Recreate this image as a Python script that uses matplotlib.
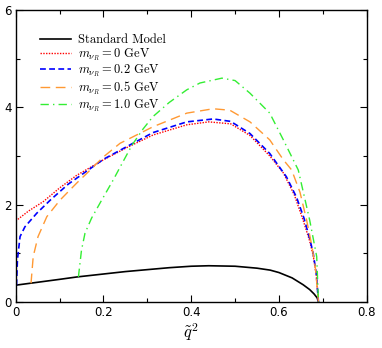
import matplotlib
matplotlib.use("Agg")
import matplotlib.pyplot as plt
from matplotlib.ticker import MultipleLocator

plt.rcParams['mathtext.fontset'] = 'cm'

# Standard Model
sm_x = [0, 0.05, 0.1, 0.14, 0.2, 0.25, 0.3, 0.35, 0.4, 0.44, 0.5, 0.55, 0.58, 0.6, 0.63, 0.655, 0.67, 0.68, 0.687, 0.69]
sm_y = [0.34, 0.40, 0.46, 0.51, 0.57, 0.62, 0.66, 0.70, 0.73, 0.74, 0.73, 0.69, 0.65, 0.60, 0.49, 0.35, 0.25, 0.16, 0.08, 0.0]

# m = 0 GeV
m0_x = [0, 0.03, 0.063, 0.1, 0.139, 0.2, 0.253, 0.313, 0.39, 0.44, 0.49, 0.534, 0.579, 0.61, 0.635, 0.655, 0.67, 0.678, 0.685, 0.69]
m0_y = [1.66, 1.87, 2.06, 2.34, 2.60, 2.92, 3.17, 3.43, 3.64, 3.70, 3.66, 3.42, 3.00, 2.65, 2.20, 1.68, 1.25, 0.95, 0.55, 0.0]

# m = 0.2 GeV
m02_x = [0.002, 0.004, 0.01, 0.021, 0.048, 0.08, 0.12, 0.2, 0.253, 0.313, 0.39, 0.45, 0.49, 0.534, 0.579, 0.617, 0.64, 0.657, 0.67, 0.678, 0.685, 0.69]
m02_y = [0.34, 0.86, 1.34, 1.54, 1.82, 2.10, 2.42, 2.93, 3.19, 3.48, 3.70, 3.76, 3.71, 3.46, 3.05, 2.57, 2.15, 1.72, 1.30, 1.00, 0.58, 0.0]

# m = 0.5 GeV
m05_x = [0.035, 0.04, 0.051, 0.071, 0.101, 0.139, 0.162, 0.2, 0.238, 0.313, 0.39, 0.45, 0.488, 0.534, 0.579, 0.61, 0.629, 0.648, 0.663, 0.675, 0.683, 0.69]
m05_y = [0.38, 0.93, 1.34, 1.75, 2.09, 2.44, 2.64, 2.98, 3.26, 3.60, 3.88, 3.97, 3.94, 3.70, 3.33, 2.92, 2.71, 2.25, 1.68, 1.15, 0.70, 0.0]

# m = 1.0 GeV
m10_x = [0.143, 0.15, 0.158, 0.173, 0.196, 0.222, 0.241, 0.253, 0.265, 0.29, 0.313, 0.35, 0.39, 0.42, 0.47, 0.50, 0.534, 0.579, 0.61, 0.644, 0.670, 0.686, 0.69]
m10_y = [0.51, 1.06, 1.41, 1.72, 2.09, 2.50, 2.82, 3.02, 3.22, 3.55, 3.81, 4.10, 4.36, 4.50, 4.60, 4.55, 4.29, 3.88, 3.33, 2.71, 1.68, 0.93, 0.0]

labels = ['Standard Model',
          r'$m_{\nu_R} = 0$ GeV',
          r'$m_{\nu_R} = 0.2$ GeV',
          r'$m_{\nu_R} = 0.5$ GeV',
          r'$m_{\nu_R} = 1.0$ GeV']

x_ticks = [0, 0.2, 0.4, 0.6, 0.8]
x_ticklabels = ['0', '0.2', '0.4', '0.6', '0.8']
y_ticks = [0, 2, 4, 6]
y_ticklabels = ['0', '2', '4', '6']

fig = plt.figure(figsize=(3.82, 3.48), dpi=100)
ax = fig.add_axes([0.041, 0.133, 0.919, 0.838])

ax.plot(sm_x, sm_y, color='black', lw=1.2, label=labels[0])
ax.plot(m0_x, m0_y, color='#ff0000', lw=1.0, ls=(0, (1, 1)), label=labels[1])
ax.plot(m02_x, m02_y, color='#0000ff', lw=1.2, ls=(0, (3.5, 2)), label=labels[2])
ax.plot(m05_x, m05_y, color='#ff9933', lw=1.0, ls=(0, (7, 4)), label=labels[3])
ax.plot(m10_x, m10_y, color='#33ee33', lw=1.0, ls=(0, (6, 3, 1, 3)), label=labels[4])

ax.set_xlim(0, 0.8)
ax.set_ylim(0, 6)
ax.set_xticks(x_ticks)
ax.set_xticklabels(x_ticklabels)
ax.set_yticks(y_ticks)
ax.set_yticklabels(y_ticklabels)
ax.xaxis.set_minor_locator(MultipleLocator(0.1))
ax.yaxis.set_minor_locator(MultipleLocator(1))
ax.tick_params(which='both', direction='in', top=True, right=True, labelsize=8.5, pad=3)
ax.tick_params(which='major', length=5, width=0.8)
ax.tick_params(which='minor', length=3, width=0.8)
for s in ax.spines.values():
    s.set_linewidth(1.0)

ax.set_xlabel(r'$\tilde{q}^2$', fontsize=12, labelpad=2)

leg = ax.legend(loc='upper left', bbox_to_anchor=(0.07, 0.918), frameon=False,
                prop={'family': 'serif', 'size': 9}, handlelength=2.5,
                handletextpad=0.5, labelspacing=0.0, borderaxespad=0.0, borderpad=0.0)
for t in leg.get_texts():
    t.set_fontfamily(['cmr10', 'DejaVu Serif'])

fig.savefig('out.png', dpi=100)
